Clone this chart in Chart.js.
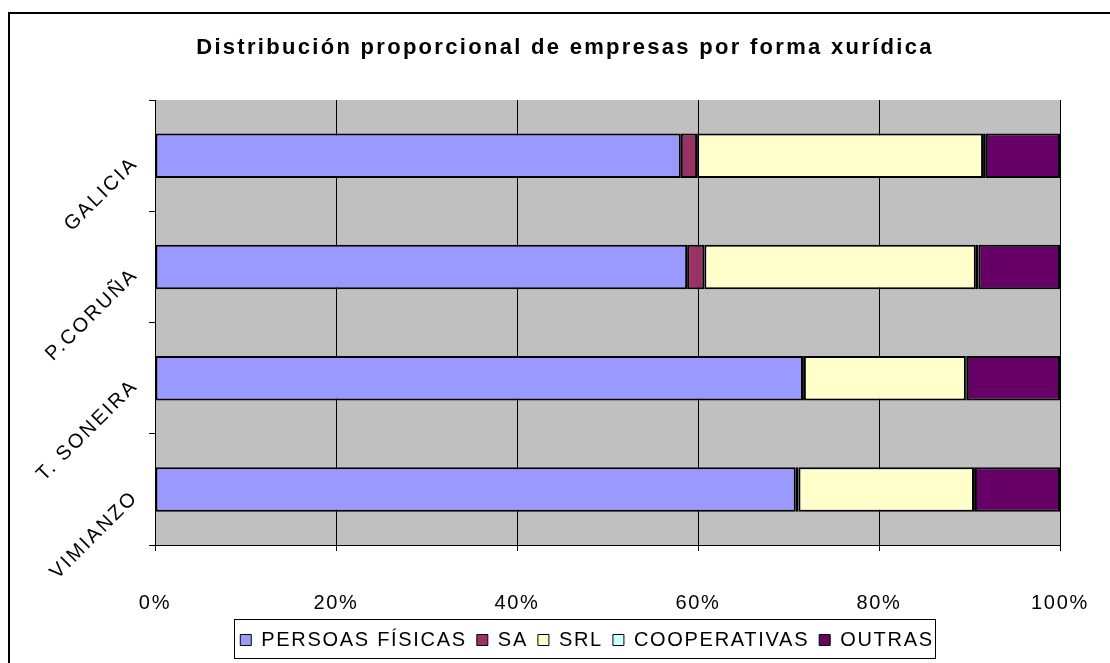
<!DOCTYPE html>
<html>
<head>
<meta charset="utf-8">
<style>
  html, body { margin: 0; padding: 0; background: #fff; }
  #chart { display: block; }
</style>
</head>
<body>
<canvas id="chart" width="1110" height="663"></canvas>

<script src="https://cdn.jsdelivr.net/npm/chart.js"></script>

<script>
// categorías (de arriba abajo)
const zonas = ['GALICIA', 'P.CORUÑA', 'T. SONEIRA', 'VIMIANZO'];

// % por forma xurídica
const persoasFisicas = [58.1, 58.8, 71.6, 70.8];
const sa = [1.8, 1.9, 0.1, 0.3];
const srl = [31.6, 30.0, 17.9, 19.4];
const cooperativas = [0.3, 0.3, 0.1, 0.1];
const outras = [8.2, 9.0, 10.3, 9.4];

const xTicks = [0, 20, 40, 60, 80, 100];

const FONTE = 'Arial, "Liberation Sans", sans-serif';
const LENDA_DX = 57;

// o Excel orixinal deixa bastante espazo entre letras
function conEspaciado(obj, metodo, esp, dx, dy) {
  if (!obj || !obj[metodo] || obj['_esp_' + metodo]) return;
  const orig = obj[metodo];
  obj[metodo] = function (...args) {
    const ctx = this.ctx;
    const prev = ctx.letterSpacing;
    ctx.save();
    if (dx || dy) ctx.translate(dx || 0, dy || 0);
    ctx.letterSpacing = esp;
    const r = orig.apply(this, args);
    ctx.restore();
    ctx.letterSpacing = prev;
    return r;
  };
  obj['_esp_' + metodo] = true;
}

const espaciado = {
  id: 'espaciado',
  beforeLayout(chart) {
    // título e lenda van centrados no marco orixinal, algo máis á dereita
    conEspaciado(chart.titleBlock, 'draw', '2.3px', 35);
    conEspaciado(chart.legend, 'fit', '1.7px');
    conEspaciado(chart.legend, 'draw', '1.7px', LENDA_DX);
    conEspaciado(chart.scales.x, 'drawLabels', '1.7px');
    conEspaciado(chart.scales.y, 'drawLabels', '2.3px', -4, 5);
  }
};

// fondo gris da área do gráfico + marco exterior
const areaFondo = {
  id: 'areaFondo',
  beforeDraw(chart) {
    const ctx = chart.ctx;
    const a = chart.chartArea;
    ctx.save();
    ctx.fillStyle = '#fff';
    ctx.fillRect(0, 0, chart.width, chart.height);
    ctx.strokeStyle = '#000';
    ctx.lineWidth = 2;
    ctx.beginPath();
    ctx.moveTo(9, chart.height + 5);
    ctx.lineTo(9, 13);
    ctx.lineTo(chart.width + 5, 13);
    ctx.stroke();
    ctx.fillStyle = '#C0C0C0';
    ctx.fillRect(a.left, a.top, a.right - a.left, a.bottom - a.top);
    ctx.restore();
  }
};

// caixa arredor da lenda
const caixaLenda = {
  id: 'caixaLenda',
  afterDraw(chart) {
    const boxes = chart.legend.legendHitBoxes;
    if (!boxes || !boxes.length) return;
    let l = Infinity, r = -Infinity, t = Infinity, b = -Infinity;
    boxes.forEach(h => {
      l = Math.min(l, h.left); r = Math.max(r, h.left + h.width);
      t = Math.min(t, h.top); b = Math.max(b, h.top + h.height);
    });
    const ctx = chart.ctx;
    ctx.save();
    ctx.strokeStyle = '#000';
    ctx.lineWidth = 1;
    ctx.strokeRect(Math.round(l - 6 + LENDA_DX) + 0.5, Math.round(t - 11) + 0.5, Math.round(r - l + 8), 39);
    ctx.restore();
  }
};

function serie(label, data, color) {
  return {
    label: label,
    data: data,
    backgroundColor: color,
    borderColor: '#000',
    borderWidth: 2,
    borderSkipped: false,
    barPercentage: 0.4,
    categoryPercentage: 1
  };
}

new Chart(document.getElementById('chart'), {
  type: 'bar',
  data: {
    labels: zonas,
    datasets: [
      serie('PERSOAS FÍSICAS', persoasFisicas, '#9999FF'),
      serie('SA', sa, '#993366'),
      serie('SRL', srl, '#FFFFCC'),
      serie('COOPERATIVAS', cooperativas, '#CCFFFF'),
      serie('OUTRAS', outras, '#660066')
    ]
  },
  options: {
    indexAxis: 'y',
    responsive: false,
    animation: false,
    layout: { padding: { left: 0, right: 50, top: 0, bottom: 3 } },
    plugins: {
      title: {
        display: true,
        text: 'Distribución proporcional de empresas por forma xurídica',
        color: '#000',
        font: { family: FONTE, size: 22, weight: 'bold' },
        padding: { top: 35, bottom: 38.6 }
      },
      legend: {
        position: 'bottom',
        labels: {
          color: '#000',
          font: { family: FONTE, size: 20 },
          boxWidth: 11,
          boxHeight: 11,
          padding: 10,
          generateLabels(chart) {
            return chart.data.datasets.map((d, i) => ({
              text: d.label,
              fillStyle: d.backgroundColor,
              strokeStyle: '#000',
              lineWidth: 1,
              datasetIndex: i
            }));
          }
        }
      },
      tooltip: { enabled: false }
    },
    scales: {
      x: {
        stacked: true,
        min: 0,
        max: 100,
        afterBuildTicks(scale) {
          scale.ticks = xTicks.map(v => ({ value: v }));
        },
        afterFit(scale) {
          scale.height = 75;
          scale.paddingLeft = 0;
          scale.paddingRight = 0;
        },
        ticks: {
          color: '#000',
          font: { family: FONTE, size: 20 },
          padding: 40,
          callback: v => v + '%'
        },
        grid: { color: '#000', lineWidth: 1, tickLength: 6, drawTicks: true },
        border: { color: '#000', width: 1 }
      },
      y: {
        stacked: true,
        afterFit(scale) {
          scale.width = 155;
          scale.paddingTop = 0;
          scale.paddingBottom = 0;
        },
        ticks: {
          color: '#000',
          font: { family: FONTE, size: 20 },
          minRotation: 45,
          maxRotation: 45,
          padding: 10
        },
        grid: { drawOnChartArea: false, color: '#000', tickLength: 6, offset: true },
        border: { color: '#000', width: 1 }
      }
    }
  },
  plugins: [espaciado, areaFondo, caixaLenda]
});
</script>
</body>
</html>
